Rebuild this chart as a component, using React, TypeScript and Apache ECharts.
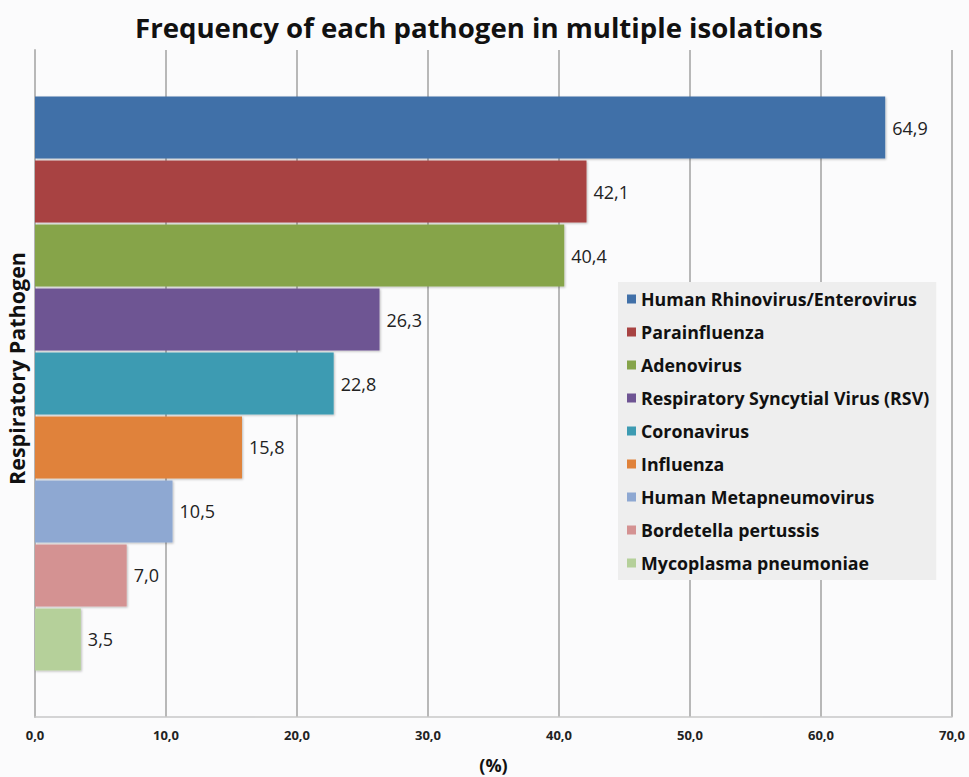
import React, { useEffect, useRef } from "react";
import * as echarts from "echarts";

const pathogens = [
  "Human Rhinovirus/Enterovirus",
  "Parainfluenza",
  "Adenovirus",
  "Respiratory Syncytial Virus (RSV)",
  "Coronavirus",
  "Influenza",
  "Human Metapneumovirus",
  "Bordetella pertussis",
  "Mycoplasma pneumoniae",
];
const frequencies = [64.9, 42.1, 40.4, 26.3, 22.8, 15.8, 10.5, 7.0, 3.5];
const colors = [
  "#4170a8",
  "#a84342",
  "#86a44a",
  "#6e5493",
  "#3d9bb2",
  "#e0823a",
  "#8ea8d2",
  "#d49292",
  "#b5d09a",
];
const categories = [""];
const xTicks = { min: 0, max: 70, interval: 10 };

const FONT = "'Open Sans', Lato, sans-serif";
const fmt = (v: number) => v.toFixed(1).replace(".", ",");

export default function App() {
  const ref = useRef<HTMLDivElement>(null);
  useEffect(() => {
    if (!ref.current) return;
    const chart = echarts.init(ref.current, undefined, { renderer: "svg" });
    chart.setOption({
      animation: false,
      backgroundColor: "#fbfbfc",
      textStyle: { fontFamily: FONT },
      title: {
        text: "Frequency of each pathogen in multiple isolations",
        left: 130,
        top: 8,
        textStyle: { fontSize: 27.6, fontWeight: "bold", color: "#111", fontFamily: FONT },
      },
      legend: {
        orient: "vertical",
        left: 618,
        top: 282,
        backgroundColor: "#eeeeee",
        padding: [8, 7, 8, 9],
        itemWidth: 9,
        itemHeight: 9,
        itemGap: 15,
        icon: "rect",
        data: pathogens,
        textStyle: { fontSize: 17.8, fontWeight: "bold", color: "#111", fontFamily: FONT, lineHeight: 18 },
      },
      grid: { left: 35, right: 17, top: 50, bottom: 60, containLabel: false, outerBoundsMode: "none" },
      xAxis: {
        type: "value",
        min: xTicks.min,
        max: xTicks.max,
        interval: xTicks.interval,
        name: "(%)",
        nameLocation: "middle",
        nameGap: 39,
        nameTextStyle: { fontSize: 18, fontWeight: "bold", color: "#111", fontFamily: FONT },
        axisLine: { show: true, lineStyle: { color: "#c8c8c8", width: 1.5 } },
        axisTick: { show: false },
        splitLine: { show: true, lineStyle: { color: "#b8b8b8", width: 2 } },
        axisLabel: {
          formatter: (v: number) => fmt(v),
          fontSize: 13,
          fontWeight: "bold",
          color: "#222",
          margin: 11,
          fontFamily: FONT,
        },
      },
      yAxis: {
        type: "category",
        data: categories,
        inverse: true,
        name: "Respiratory Pathogen",
        nameLocation: "middle",
        nameGap: 8,
        nameRotate: 90,
        nameTextStyle: {
          fontSize: 21.5,
          fontWeight: "bold",
          color: "#111",
          fontFamily: FONT,
          padding: [0, 0, 0, 30],
        },
        axisLine: { show: true, lineStyle: { color: "#b8b8b8", width: 2 } },
        axisTick: { show: false },
        axisLabel: { show: false },
      },
      series: pathogens.map((name, i) => ({
        name,
        type: "bar",
        barWidth: 62,
        barGap: "3.2%",
        itemStyle: {
          color: colors[i],
          shadowColor: "rgba(0,0,0,0.25)",
          shadowBlur: 2,
          shadowOffsetX: 1,
          shadowOffsetY: 1,
        },
        label: {
          show: true,
          position: "right",
          distance: 7,
          formatter: (p: any) => fmt(p.value),
          fontSize: 18,
          color: "#222",
          fontFamily: FONT,
        },
        data: [frequencies[i]],
      })),
    });
    return () => chart.dispose();
  }, []);
  return <div ref={ref} style={{ width: 969, height: 777, position: "absolute", left: 0, top: 0 }} />;
}
